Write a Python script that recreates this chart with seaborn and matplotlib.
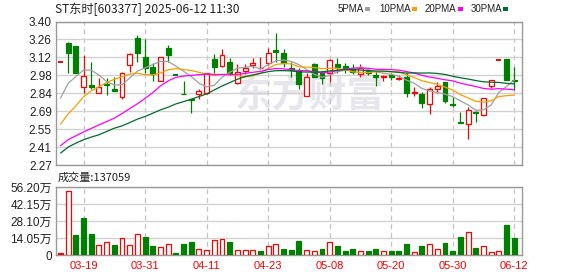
import numpy as np
import pandas as pd
import matplotlib
matplotlib.use("Agg")
import matplotlib.pyplot as plt
from matplotlib.patches import Rectangle
import seaborn as sns

# ---------------- data ----------------
dates = ["03-14", "03-17", "03-18", "03-19", "03-20", "03-21", "03-24", "03-25", "03-26", "03-27",
         "03-28", "03-31", "04-01", "04-02", "04-03", "04-07", "04-08", "04-09", "04-10", "04-11",
         "04-14", "04-15", "04-16", "04-17", "04-18", "04-21", "04-22", "04-23", "04-24", "04-25",
         "04-28", "04-29", "04-30", "05-06", "05-07", "05-08", "05-09", "05-12", "05-13", "05-14",
         "05-15", "05-16", "05-19", "05-20", "05-21", "05-22", "05-23", "05-26", "05-27", "05-28",
         "05-29", "05-30", "06-03", "06-04", "06-05", "06-06", "06-09", "06-10", "06-11", "06-12"]

opens = [3.078, 3.234, 3.206, 2.887, 2.900, 2.835, 2.906, 2.869, 2.803, 3.057,
         3.274, 3.117, 3.039, 2.934, 3.191, 2.975, 2.832, 2.788, 2.830, 2.835,
         3.104, 3.049, 3.081, 2.919, 3.013, 3.055, 3.034, 3.070, 3.175, 3.151,
         3.034, 3.013, 2.817, 3.065, 2.992, 2.992, 3.065, 3.049, 3.015, 2.987,
         3.013, 2.979, 2.963, 2.979, 2.947, 2.960, 2.838, 2.830, 2.748, 2.866,
         2.921, 2.748, 2.605, 2.592, 2.688, 2.660, 2.892, 3.094, 3.102, 2.937]
highs = [3.078, 3.238, 3.206, 3.136, 3.081, 2.953, 2.953, 2.960, 2.999, 3.149,
         3.293, 3.261, 3.070, 3.117, 3.214, 2.975, 2.935, 2.793, 2.866, 2.997,
         3.141, 3.185, 3.115, 3.062, 3.068, 3.115, 3.123, 3.191, 3.311, 3.185,
         3.078, 3.031, 2.992, 3.075, 3.013, 3.102, 3.115, 3.070, 3.065, 3.065,
         3.036, 3.013, 2.979, 2.997, 2.979, 2.992, 2.887, 2.848, 2.887, 2.926,
         2.926, 2.803, 2.688, 2.730, 2.699, 2.796, 2.937, 3.094, 3.102, 3.039]
lows = [3.078, 2.997, 2.994, 2.840, 2.866, 2.835, 2.822, 2.856, 2.788, 3.005,
        3.083, 2.992, 2.932, 2.934, 3.083, 2.975, 2.826, 2.683, 2.788, 2.830,
        2.997, 3.044, 2.979, 2.908, 2.987, 3.036, 3.023, 3.057, 3.083, 3.044,
        2.966, 2.871, 2.817, 2.960, 2.905, 2.926, 2.992, 2.992, 2.984, 2.960,
        2.979, 2.895, 2.934, 2.939, 2.939, 2.803, 2.817, 2.722, 2.673, 2.835,
        2.756, 2.725, 2.599, 2.474, 2.612, 2.652, 2.874, 3.094, 2.939, 2.861]
closes = [3.078, 3.154, 2.996, 2.971, 2.882, 2.886, 2.898, 2.856, 2.992, 3.143,
          3.154, 3.031, 2.984, 3.117, 3.138, 2.975, 2.826, 2.780, 2.853, 2.992,
          3.039, 3.136, 2.984, 3.005, 3.036, 3.073, 3.036, 3.149, 3.157, 3.070,
          3.018, 2.905, 2.960, 2.966, 2.955, 3.094, 3.044, 3.026, 3.005, 3.031,
          2.997, 2.960, 2.968, 2.966, 2.955, 2.840, 2.843, 2.762, 2.866, 2.892,
          2.777, 2.743, 2.599, 2.704, 2.680, 2.796, 2.937, 3.094, 2.939, 2.929]

ma5 = [2.796, 2.913, 2.966, 3.018, 3.016, 2.978, 2.927, 2.899, 2.903, 2.955,
       3.009, 3.035, 3.061, 3.086, 3.085, 3.049, 3.008, 2.967, 2.914, 2.885,
       2.898, 2.960, 3.001, 3.031, 3.040, 3.047, 3.027, 3.060, 3.090, 3.097,
       3.086, 3.060, 3.022, 2.984, 2.961, 2.976, 3.004, 3.017, 3.025, 3.040,
       3.021, 3.004, 2.992, 2.984, 2.969, 2.938, 2.914, 2.873, 2.853, 2.841,
       2.828, 2.808, 2.775, 2.743, 2.701, 2.704, 2.743, 2.842, 2.889, 2.939]
ma10 = [2.591, 2.673, 2.735, 2.808, 2.853, 2.887, 2.919, 2.945, 2.965, 2.986,
        2.993, 2.981, 2.980, 2.994, 3.020, 3.029, 3.022, 3.014, 3.000, 2.985,
        2.974, 2.984, 2.984, 2.973, 2.963, 2.972, 2.993, 3.030, 3.061, 3.069,
        3.066, 3.043, 3.041, 3.037, 3.029, 3.031, 3.032, 3.020, 3.004, 3.000,
        2.998, 3.004, 3.005, 3.005, 3.005, 2.979, 2.959, 2.933, 2.919, 2.905,
        2.883, 2.861, 2.824, 2.798, 2.771, 2.766, 2.776, 2.809, 2.816, 2.820]
ma20 = [2.421, 2.470, 2.500, 2.530, 2.558, 2.586, 2.612, 2.639, 2.675, 2.714,
        2.752, 2.795, 2.840, 2.893, 2.932, 2.960, 2.970, 2.976, 2.981, 2.985,
        2.983, 2.982, 2.982, 2.983, 2.991, 3.000, 3.007, 3.022, 3.030, 3.027,
        3.020, 3.014, 3.012, 3.005, 2.996, 3.002, 3.013, 3.025, 3.033, 3.034,
        3.032, 3.024, 3.023, 3.021, 3.017, 3.005, 2.995, 2.976, 2.962, 2.953,
        2.941, 2.933, 2.914, 2.901, 2.888, 2.873, 2.867, 2.871, 2.867, 2.862]
ma30 = [2.364, 2.411, 2.442, 2.469, 2.490, 2.508, 2.534, 2.560, 2.578, 2.604,
        2.631, 2.652, 2.678, 2.704, 2.725, 2.751, 2.769, 2.788, 2.809, 2.830,
        2.861, 2.892, 2.919, 2.945, 2.966, 2.979, 2.992, 3.005, 3.013, 3.013,
        3.011, 3.003, 3.002, 3.001, 3.004, 3.011, 3.016, 3.021, 3.022, 3.018,
        3.013, 3.010, 3.010, 3.005, 2.999, 2.994, 2.995, 2.994, 2.995, 2.991,
        2.983, 2.969, 2.957, 2.947, 2.935, 2.925, 2.922, 2.920, 2.913, 2.908]

# volume in 万 (10k shares)
volumes = [1.4, 52.6, 16.9, 30.4, 17.7, 8.6, 10.8, 8.6, 14.1, 8.6,
           17.4, 14.7, 7.8, 6.9, 9.1, 1.4, 9.4, 10.8, 5.3, 4.4,
           12.7, 13.6, 11.1, 4.4, 4.4, 4.4, 3.6, 7.8, 9.1, 5.3,
           4.4, 11.9, 4.2, 3.6, 5.3, 10.8, 7.8, 3.6, 5.3, 3.6,
           3.6, 5.3, 3.6, 3.6, 3.6, 9.4, 2.5, 7.8, 9.1, 5.3,
           10.2, 3.6, 15.2, 19.1, 6.1, 7.8, 2.5, 3.3, 24.4, 13.7]
# 1 = close above previous close (red), 0 = below (green)
vol_up = [1, 1, 0, 0, 0, 1, 1, 0, 1, 1,
          1, 0, 0, 1, 1, 0, 0, 0, 1, 1,
          1, 1, 0, 1, 1, 1, 0, 1, 1, 0,
          0, 0, 1, 1, 0, 1, 0, 0, 0, 1,
          0, 0, 1, 0, 0, 0, 1, 0, 1, 1,
          0, 0, 0, 1, 0, 1, 1, 1, 0, 0]

tick_dates = ["03-19", "03-31", "04-11", "04-23", "05-08", "05-20", "05-30", "06-12"]
price_ticks = ["2.27", "2.41", "2.55", "2.69", "2.84", "2.98", "3.12", "3.26", "3.40"]
vol_ticks = ["0", "14.05万", "28.10万", "42.15万", "56.20万"]
vol_tick_values = [0, 14.05, 28.10, 42.15, 56.20]

title_text = "ST东时[603377] 2025-06-12 11:30"
ma_names = ["5PMA", "10PMA", "20PMA", "30PMA"]
vol_title = "成交量:137059"
watermark = "东方财富"

# ---------------- styling ----------------
sns.set_theme(style="white")
plt.rcParams["font.family"] = ["Liberation Sans", "Noto Sans CJK SC", "DejaVu Sans"]

RED = "#ff0000"
GREEN = "#008000"
MA_COLORS = ["#a0a0a0", "#f5a000", "#ff00ff", "#006b2e"]
GRID = "#d2d2d2"
SPINE = "#999999"
TXT = "#222222"

W, H = 578, 276
fig = plt.figure(figsize=(W / 100, H / 100), dpi=100, facecolor="white")


def rect(l, t, r, b):
    return [l / W, 1 - b / H, (r - l) / W, (b - t) / H]


axp = fig.add_axes(rect(56, 21.5, 522, 165))
axv = fig.add_axes(rect(56, 187, 522, 255))

n = len(dates)
idx = np.arange(n)
df = pd.DataFrame({"i": idx, "date": dates, "open": opens, "high": highs, "low": lows,
                   "close": closes, "ma5": ma5, "ma10": ma10, "ma20": ma20, "ma30": ma30,
                   "vol": volumes, "up": vol_up})

xlim = (-0.585, 60.01)
tick_idx = [dates.index(d) for d in tick_dates]

# ---------------- price panel ----------------
ymin, ymax = 2.27, 3.40
axp.set_xlim(*xlim)
axp.set_ylim(ymin, ymax)
yt = np.linspace(ymin, ymax, len(price_ticks))
axp.set_yticks(yt)
axp.set_yticklabels(price_ticks)
axp.set_xticks(tick_idx)
axp.set_xticklabels([])
axp.grid(axis="y", color=GRID, lw=1.0, ls="-")
axp.grid(axis="x", color="#c4c4c4", lw=0.9, ls=(0, (4, 3)))
axp.set_axisbelow(True)

axp.text(32.4, 2.81, watermark, fontsize=27, fontweight="bold", color="#e6e6ec",
         ha="center", va="center", family=["Noto Sans CJK SC"], zorder=0.5)

bw = 0.64
for r in df.itertuples():
    o, h, l, c = r.open, r.high, r.low, r.close
    if c > o:
        col, up = RED, True
    elif c < o:
        col, up = GREEN, False
    else:
        col, up = (RED if r.up else GREEN), None
    if up is None:
        axp.hlines(o, r.i - bw / 2, r.i + bw / 2, color=col, lw=1.4, zorder=3)
        if h > o or l < o:
            axp.vlines(r.i, l, h, color=col, lw=0.9, zorder=3)
        continue
    bot, top = min(o, c), max(o, c)
    axp.vlines(r.i, top, h, color=col, lw=0.9, zorder=2)
    axp.vlines(r.i, l, bot, color=col, lw=0.9, zorder=2)
    axp.add_patch(Rectangle((r.i - bw / 2, bot), bw, max(top - bot, 0.002),
                            facecolor="white" if up else col, edgecolor=col,
                            lw=0.9, zorder=3))

for name, colr in zip(["ma5", "ma10", "ma20", "ma30"], MA_COLORS):
    sns.lineplot(data=df, x="i", y=name, ax=axp, color=colr, lw=0.9, legend=False,
                 zorder=4)
axp.set_xlim(*xlim)
axp.set_xlabel("")
axp.set_ylabel("")

# ---------------- volume panel ----------------
axv.set_xlim(*xlim)
axv.set_ylim(0, 56.2)
axv.set_yticks(vol_tick_values)
axv.set_yticklabels(vol_ticks)
axv.set_xticks(tick_idx)
axv.set_xticklabels(tick_dates)
axv.grid(axis="y", color=GRID, lw=1.0, ls="-")
axv.grid(axis="x", color="#c4c4c4", lw=0.9, ls=(0, (4, 3)))
axv.set_axisbelow(True)
faces = [("white" if u else GREEN) for u in vol_up]
edges = [(RED if u else GREEN) for u in vol_up]
faces[0] = RED
axv.bar(df["i"], df["vol"], width=bw, color=faces, edgecolor=edges, lw=0.9, zorder=3)

for ax in (axp, axv):
    for s in ax.spines.values():
        s.set_color(SPINE)
        s.set_linewidth(1.0)
    ax.tick_params(axis="both", length=0, labelsize=8.5, labelcolor=TXT, pad=3)
axv.tick_params(axis="x", labelcolor="#ff0000", labelsize=8, pad=4)

# ---------------- header texts ----------------
fig.text(55 / W, 1 - 9.5 / H, title_text, ha="left", va="center", fontsize=8.7,
         color=TXT, family=["Noto Sans CJK SC", "DejaVu Sans"])
leg_x = [338, 379, 425, 471]
sq_x = [365, 412, 458, 503]
for name, colr, lx, sx in zip(ma_names, MA_COLORS, leg_x, sq_x):
    fig.text(lx / W, 1 - 9.5 / H, name, ha="left", va="center", fontsize=7, color=TXT)
    fig.patches.append(Rectangle((sx / W, 1 - 11 / H), 5 / W, 4 / H, transform=fig.transFigure,
                                 facecolor=colr, edgecolor="none"))

fig.text(58 / W, 1 - 178 / H, vol_title, ha="left", va="center", fontsize=8,
         color=TXT, family=["Noto Sans CJK SC", "DejaVu Sans"])

fig.savefig("out.png", dpi=100, facecolor="white")
